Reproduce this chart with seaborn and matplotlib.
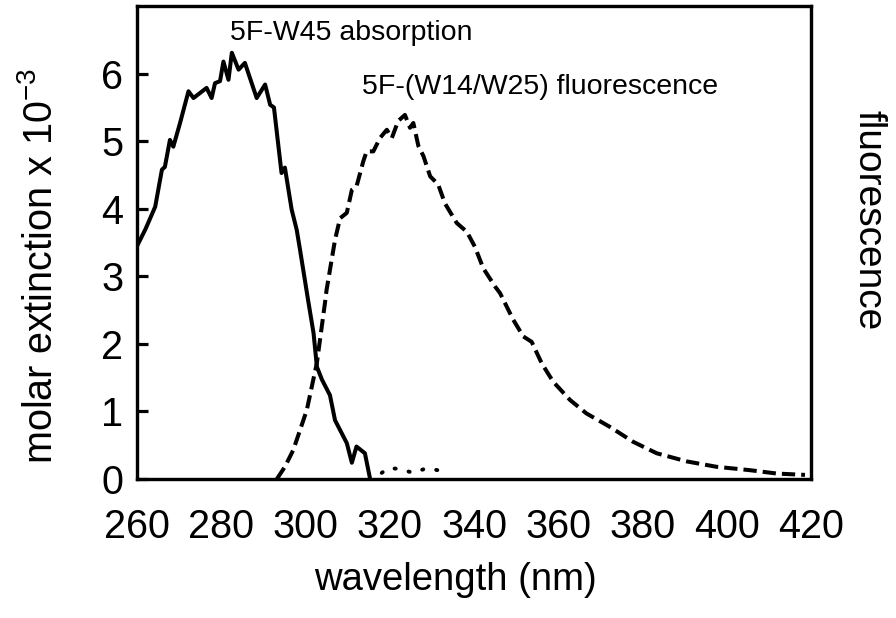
import numpy as np
import pandas as pd
import matplotlib
matplotlib.use("Agg")
import matplotlib.pyplot as plt
import seaborn as sns

# ---- data ----
abs_nm = [260.0, 262.0, 264.3, 265.9, 266.6, 267.8, 268.6, 270.2, 272.2, 273.4,
          276.5, 277.7, 278.5, 279.7, 280.5, 281.7, 282.5, 284.1, 285.6, 288.4,
          290.4, 291.6, 292.5, 294.3, 295.1, 296.7, 297.9, 298.7, 300.6, 301.9,
          302.7, 303.9, 305.8, 307.0, 309.8, 311.0, 312.1, 314.1, 315.3]
abs_val = [3.45, 3.70, 4.03, 4.58, 4.62, 5.02, 4.92, 5.27, 5.74, 5.64,
           5.79, 5.64, 5.86, 5.89, 6.18, 5.91, 6.31, 6.06, 6.16, 5.64,
           5.84, 5.54, 5.50, 4.53, 4.61, 3.99, 3.69, 3.39, 2.65, 2.16,
           1.66, 1.47, 1.24, 0.87, 0.53, 0.24, 0.48, 0.38, 0.01]

tail_nm = [318.1, 319.6, 322.4, 325.5, 328.8, 333.9]
tail_val = [0.09, 0.16, 0.15, 0.09, 0.16, 0.10]

fl_nm = [293.2, 295.1, 297.1, 300.3, 302.7, 304.6, 305.0, 307.0, 308.2, 309.8,
         311.0, 312.1, 313.7, 314.5, 316.1, 317.7, 319.3, 320.5, 322.0, 323.6,
         324.8, 325.6, 326.8, 328.0, 329.6, 331.5, 333.1, 335.9, 338.3, 340.2,
         342.2, 345.0, 346.2, 349.3, 351.7, 353.7, 356.1, 358.8, 362.8, 366.7,
         372.3, 377.8, 383.4, 390.5, 397.6, 405.5, 411.9, 418.6]
fl_val = [0.00, 0.18, 0.43, 1.02, 1.72, 2.60, 2.80, 3.54, 3.86, 3.94,
          4.28, 4.33, 4.70, 4.85, 4.85, 5.05, 5.17, 5.05, 5.30, 5.39,
          5.20, 5.27, 4.93, 4.78, 4.48, 4.36, 4.08, 3.79, 3.66, 3.44,
          3.12, 2.85, 2.75, 2.36, 2.11, 2.03, 1.71, 1.44, 1.17, 0.97,
          0.77, 0.55, 0.38, 0.26, 0.18, 0.13, 0.08, 0.06]

x_ticks = [260, 280, 300, 320, 340, 360, 380, 400, 420]
y_ticks = [0, 1, 2, 3, 4, 5, 6]

# ---- style ----
sns.set_theme(style="white")
plt.rcParams['font.family'] = ['Liberation Sans', 'DejaVu Sans']
plt.rcParams['mathtext.fontset'] = 'custom'
plt.rcParams['mathtext.rm'] = 'Liberation Sans'
plt.rcParams['mathtext.it'] = 'Liberation Sans:italic'
plt.rcParams['text.color'] = 'black'
plt.rcParams['axes.labelcolor'] = 'black'
plt.rcParams['xtick.color'] = 'black'
plt.rcParams['ytick.color'] = 'black'

fig = plt.figure(figsize=(8.96, 6.18), dpi=100)
ax = fig.add_axes([0.153, 0.225, 0.752, 0.765])

abs_df = pd.DataFrame({"nm": abs_nm, "val": abs_val})
tail_df = pd.DataFrame({"nm": tail_nm, "val": tail_val})
fl_df = pd.DataFrame({"nm": fl_nm, "val": fl_val})

sns.lineplot(data=abs_df, x="nm", y="val", ax=ax, color="black", lw=2.9,
             estimator=None, sort=False)
sns.lineplot(data=tail_df, x="nm", y="val", ax=ax, color="black", lw=2.8,
             estimator=None, sort=False, dashes=(0.3, 3.4),
             dash_capstyle="round")

ax2 = ax.twinx()
sns.lineplot(data=fl_df, x="nm", y="val", ax=ax2, color="black", lw=2.9,
             estimator=None, sort=False, dashes=(3.3, 1.5))

for a in (ax, ax2):
    a.set_xlim(260, 420)
    a.set_ylim(0, 7)
    for s in a.spines.values():
        s.set_linewidth(2.3)
        s.set_color("black")

ax.set_xticks(x_ticks)
ax.set_yticks(y_ticks)
ax.tick_params(axis="both", direction="in", length=8, width=2.3,
               labelsize=28.5, colors="black")
ax.tick_params(axis="x", pad=21)
ax.tick_params(axis="y", pad=10)
ax2.set_yticks([])

ax.set_xlabel("wavelength (nm)", fontsize=27.5)
ax.xaxis.set_label_coords(0.472, -0.176)
ax.set_ylabel("molar extinction x 10$^{-3}$", fontsize=28.5)
ax.yaxis.set_label_coords(-0.115, 0.45)
ax2.set_ylabel("fluorescence", fontsize=28, rotation=270)
ax2.yaxis.set_label_coords(1.112, 0.548)

ax.text(282.1, 6.61, "5F-W45 absorption", fontsize=20.5, va="center", ha="left")
ax.text(313.4, 5.81, "5F-(W14/W25) fluorescence", fontsize=20.5,
        va="center", ha="left")

fig.savefig("out.png", dpi=100)
